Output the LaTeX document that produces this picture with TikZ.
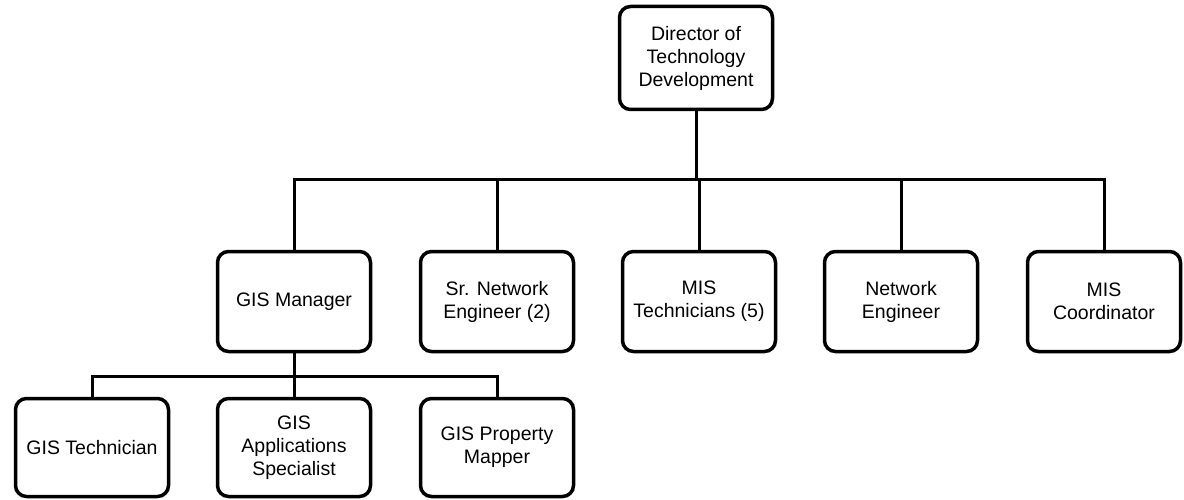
\documentclass[tikz,border=0pt]{standalone}
\usepackage{fontspec}
\setmainfont{Liberation Sans}
\begin{document}
\begin{tikzpicture}[x=1pt,y=-1pt,
  box/.style={draw, line width=3.5pt, rounded corners=11pt, minimum width=153pt,
    minimum height=100pt, align=center, inner sep=2pt,
    font=\fontsize{19.5}{23}\selectfont},
  conn/.style={line width=3pt}]
\useasboundingbox (0,0) rectangle (1184,500);
% top
\node[box, minimum height=103pt] (dir) at (696,58) {Director of\\Technology\\Development};
% second row
\node[box] (gism) at (294,301.5) {GIS Manager};
\node[box] (srne) at (497,301.5) {Sr. Network\\Engineer (2)};
\node[box] (mist) at (699,301.5) {MIS\\Technicians (5)};
\node[box] (ne)   at (901,301.5) {Network\\Engineer};
\node[box] (misc) at (1104,301.5) {MIS\\Coordinator};
% third row
\node[box, minimum height=98pt] (gist) at (92,447.5) {GIS Technician};
\node[box, minimum height=98pt] (gisa) at (294,447.5) {GIS\\Applications\\Specialist};
\node[box, minimum height=98pt] (gisp) at (497,447.5) {GIS Property\\Mapper};
% connectors
\coordinate (bar) at (696,180);
\coordinate (sub) at (294,376);
\draw[conn] (dir.south) -- (bar);
\draw[conn] (gism.north) |- (bar) -| (misc.north);
\draw[conn] (srne.north) -- (srne.north |- bar);
\draw[conn] (mist.north) -- (mist.north |- bar);
\draw[conn] (ne.north) -- (ne.north |- bar);
\draw[conn] (gism.south) -- (gisa.north);
\draw[conn] (gist.north) |- (sub) -| (gisp.north);
\end{tikzpicture}
\end{document}
